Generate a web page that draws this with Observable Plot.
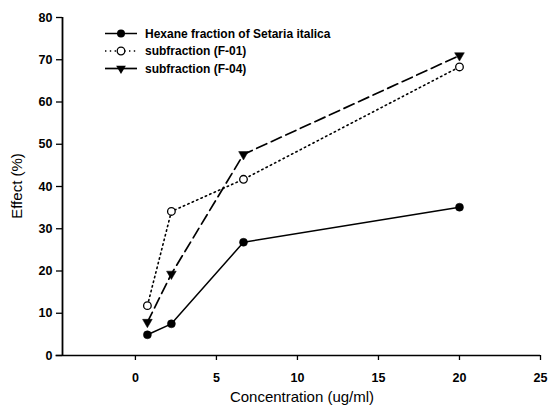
<!DOCTYPE html>
<html>
<head>
<meta charset="utf-8">
<script src="https://cdn.jsdelivr.net/npm/d3@7"></script>
<script src="https://cdn.jsdelivr.net/npm/@observablehq/plot@0.6"></script>
<style>
  html, body { margin: 0; padding: 0; background: white; }
  #chart { width: 548px; height: 413px; }
</style>
</head>
<body>
<div id="chart"></div>
<script>
// ---- data ----
const concentration = [0.74, 2.22, 6.67, 20];
const hexane = [4.9, 7.5, 26.8, 35.1];
const f01 = [11.8, 34.1, 41.7, 68.3];
const f04 = [7.9, 19.3, 47.6, 71.0];
const seriesNames = ["Hexane fraction of Setaria italica", "subfraction (F-01)", "subfraction (F-04)"];
const xTicks = [0, 5, 10, 15, 20, 25];
const yTicks = [0, 10, 20, 30, 40, 50, 60, 70, 80];
const xTitle = "Concentration (ug/ml)";
const yTitle = "Effect (%)";

const toRows = (vals, name) => concentration.map((c, i) => ({series: name, x: c, y: vals[i]}));
const rowsHex = toRows(hexane, seriesNames[0]);
const rowsF01 = toRows(f01, seriesNames[1]);
const rowsF04 = toRows(f04, seriesNames[2]);

const font = "'Liberation Sans', Arial, Helvetica, sans-serif";

const chart = Plot.plot({
  width: 548,
  height: 413,
  marginLeft: 62,
  marginRight: 8,
  marginTop: 17,
  marginBottom: 58,
  x: {domain: [-4.5, 25]},
  y: {domain: [0, 80]},
  style: {fontFamily: font, background: "white", color: "black"},
  marks: [
    Plot.axisX(xTicks, {tickSize: 5, tickPadding: 13, fontSize: 12.5, fontWeight: "bold", label: null, strokeWidth: 1.3}),
    Plot.axisY(yTicks, {tickSize: 6, tickPadding: 4, fontSize: 12.5, fontWeight: "bold", label: null, strokeWidth: 1.3}),
    Plot.ruleY([0], {x1: -4.9, x2: 25, stroke: "black", strokeWidth: 1.6}),
    Plot.ruleX([-4.5], {stroke: "black", strokeWidth: 1.8}),
    Plot.line(rowsHex, {x: "x", y: "y", stroke: "black", strokeWidth: 1.5}),
    Plot.line(rowsF01, {x: "x", y: "y", stroke: "black", strokeWidth: 1.6, strokeDasharray: "1.4,3.4"}),
    Plot.line(rowsF04, {x: "x", y: "y", stroke: "black", strokeWidth: 1.7, strokeDasharray: "11,5"}),
    Plot.dot(rowsHex, {x: "x", y: "y", r: 4, fill: "black", stroke: "black", strokeWidth: 0.5}),
    Plot.dot(rowsF01, {x: "x", y: "y", r: 3.8, fill: "white", stroke: "black", strokeWidth: 1.3}),
    Plot.dot(rowsF04, {x: "x", y: "y", symbol: "triangle", rotate: 180, r: 3.6, fill: "black", stroke: "black", strokeWidth: 0.5})
  ]
});

document.getElementById("chart").appendChild(chart);

// ---- axis titles and legend (layout) ----
const svg = d3.select(chart);

svg.append("text")
  .attr("x", 302).attr("y", 402)
  .attr("text-anchor", "middle")
  .attr("font-family", font).attr("font-size", 15)
  .attr("fill", "black")
  .text(xTitle);

svg.append("text")
  .attr("transform", "translate(22,186) rotate(-90)")
  .attr("text-anchor", "middle")
  .attr("font-family", font).attr("font-size", 15)
  .attr("fill", "black")
  .text(yTitle);

const legend = svg.append("g").attr("font-family", font).attr("text-anchor", "start");
const rowY = [33.5, 51, 68.5];
const lx0 = 105, lx1 = 137, lxm = 121, tx = 145;

// row 1: solid line + filled circle
legend.append("line").attr("x1", lx0).attr("x2", lx1).attr("y1", rowY[0]).attr("y2", rowY[0])
  .attr("stroke", "black").attr("stroke-width", 1.5);
legend.append("circle").attr("cx", lxm).attr("cy", rowY[0]).attr("r", 4).attr("fill", "black");

// row 2: dotted line + open circle
legend.append("line").attr("x1", lx0).attr("x2", lx1).attr("y1", rowY[1]).attr("y2", rowY[1])
  .attr("stroke", "black").attr("stroke-width", 1.6).attr("stroke-dasharray", "1.4,3.4");
legend.append("circle").attr("cx", lxm).attr("cy", rowY[1]).attr("r", 3.8)
  .attr("fill", "white").attr("stroke", "black").attr("stroke-width", 1.3);

// row 3: line + inverted triangle
legend.append("line").attr("x1", lx0).attr("x2", lx1).attr("y1", rowY[2]).attr("y2", rowY[2])
  .attr("stroke", "black").attr("stroke-width", 1.7);
legend.append("path")
  .attr("d", d3.symbol(d3.symbolTriangle, Math.PI * 3.6 * 3.6)())
  .attr("transform", `translate(${lxm},${rowY[2]}) rotate(180)`)
  .attr("fill", "black");

seriesNames.forEach((name, i) => {
  legend.append("text")
    .attr("x", tx).attr("y", rowY[i]).attr("dy", "0.36em")
    .attr("text-anchor", "start")
    .attr("font-size", 12).attr("font-weight", "bold")
    .attr("fill", "black")
    .text(name);
});
</script>
</body>
</html>
